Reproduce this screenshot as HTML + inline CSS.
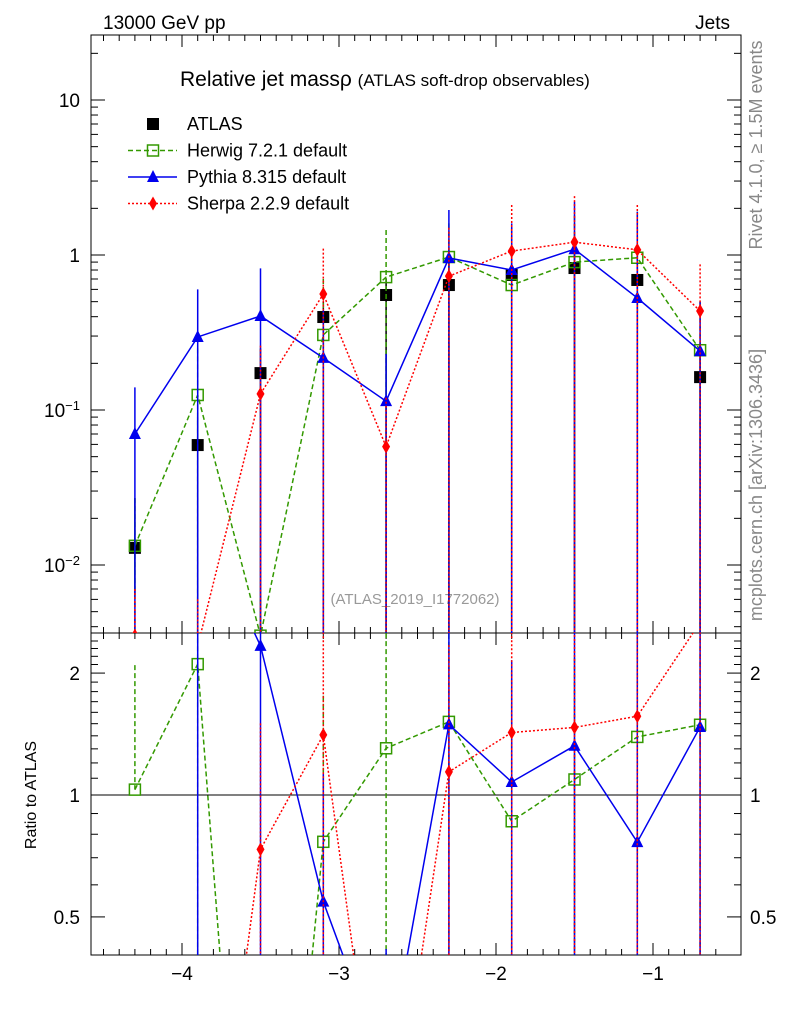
<!DOCTYPE html>
<html><head><meta charset="utf-8"><style>
html,body{margin:0;background:#fff;overflow:hidden;width:786px;height:1024px;}
svg{font-family:"Liberation Sans",sans-serif;display:block;}
</style></head><body>
<svg id="c" width="786" height="1024" xmlns="http://www.w3.org/2000/svg">
<text x="103" y="29" font-size="19">13000 GeV pp</text>
<text x="730" y="29" font-size="19" text-anchor="end">Jets</text>
<text x="180" y="86" font-size="21">Relative jet massρ <tspan font-size="17">(ATLAS soft-drop observables)</tspan></text>
<text x="415" y="604" font-size="15" fill="#999" text-anchor="middle">(ATLAS_2019_I1772062)</text>
<text transform="translate(762,145) rotate(-90)" font-size="18" fill="#888" text-anchor="middle">Rivet 4.1.0, ≥ 1.5M events</text>
<text transform="translate(762,485) rotate(-90)" font-size="18" fill="#888" text-anchor="middle">mcplots.cern.ch [arXiv:1306.3436]</text>
<text transform="translate(36,795) rotate(-90)" font-size="16" text-anchor="middle">Ratio to ATLAS</text>
<g id="g"></g>
</svg>
<script>
const xs=[-4.3,-3.9,-3.5,-3.1,-2.7,-2.3,-1.9,-1.5,-1.1,-0.7];
const atlas=[0.0129,0.0594,0.173,0.398,0.552,0.64,0.743,0.824,0.69,0.163];
const atlasUp=[0.027,0.09,0.25,0.5,0.7,1.0,1.1,1.2,1.1,0.25];
const herwig=[0.0133,0.125,0.0035,0.305,0.72,0.97,0.64,0.9,0.96,0.243];
const herwigUp=[0.027,0.25,0.006,0.7,1.45,1.6,1.5,1.8,1.9,0.5];
const pythia=[0.07,0.296,0.404,0.217,0.114,0.956,0.8,1.09,0.528,0.24];
const pythiaUp=[0.14,0.6,0.82,0.45,0.23,1.95,1.6,2.2,1.9,0.5];
const sherpa=[0.0035,0.003,0.127,0.56,0.058,0.73,1.06,1.21,1.08,0.435];
const sherpaUp=[0.007,0.006,0.26,1.1,0.12,1.5,2.1,2.4,2.1,0.87];
const xTicks=[-4,-3,-2,-1];
const NS="http://www.w3.org/2000/svg";
const g=document.getElementById('g');
const L=91,R=741,T=35,M=633,B=955;
const X=v=>182+(v+4)*157;
const Y=v=>255-Math.log10(v)*155;
const RY=v=>795-Math.log10(v)*405;
function el(t,a,p){const e=document.createElementNS(NS,t);for(const k in a)e.setAttribute(k,a[k]);(p||g).appendChild(e);return e;}
const defs=el('defs',{});
const c1=el('clipPath',{id:'cm'},defs);el('rect',{x:L,y:T,width:R-L,height:M-T},c1);
const c2=el('clipPath',{id:'cr'},defs);el('rect',{x:L,y:M,width:R-L,height:B-M},c2);
const f1=el('rect',{x:L,y:T,width:R-L,height:M-T,fill:'none',stroke:'#000'});


const f2=el('rect',{x:L,y:M,width:R-L,height:B-M,fill:'none',stroke:'#000'});


for(let v=-4.5;v<=-0.5;v+=0.1){const x=X(v);const major=Math.abs(v-Math.round(v))<1e-6;const len=major?12:6;
 if(x<L||x>R)continue;
 el('line',{x1:x,y1:T,x2:x,y2:T+len,stroke:'#000'});el('line',{x1:x,y1:M,x2:x,y2:M-len,stroke:'#000'});
 el('line',{x1:x,y1:M,x2:x,y2:M+len,stroke:'#000'});el('line',{x1:x,y1:B,x2:x,y2:B-len,stroke:'#000'});}
xTicks.forEach(v=>{const t=el('text',{x:X(v),y:980,'font-size':19,'text-anchor':'middle'});t.textContent='−'+Math.abs(v);
 
 });
for(let d=-3;d<=1;d++)for(let m=1;m<=9;m++){const v=m*Math.pow(10,d);const y=Y(v);if(y<T||y>M)continue;const len=m==1?14:7;
 el('line',{x1:L,y1:y,x2:L+len,y2:y,stroke:'#000'});el('line',{x1:R,y1:y,x2:R-len,y2:y,stroke:'#000'});}
[[10,'10'],[1,'1'],[0.1,'10<tspan dy="-7" font-size="13">−1</tspan>'],[0.01,'10<tspan dy="-7" font-size="13">−2</tspan>']].forEach(([v,s])=>{
 const t=el('text',{x:80,y:Y(v)+7,'font-size':19,'text-anchor':'end'});t.innerHTML=s;
 
 });
for(let v=0.4;v<=2.5;v+=0.1){const y=RY(v);if(y<M||y>B)continue;const major=[0.5,1,2].some(q=>Math.abs(q-v)<1e-6);const len=major?14:7;
 el('line',{x1:L,y1:y,x2:L+len,y2:y,stroke:'#000'});el('line',{x1:R,y1:y,x2:R-len,y2:y,stroke:'#000'});}
[[0.5,'0.5'],[1,'1'],[2,'2']].forEach(([v,s])=>{
 const t=el('text',{x:80,y:RY(v)+7,'font-size':19,'text-anchor':'end'});t.textContent=s;
 
 
 const t2=el('text',{x:750,y:RY(v)+7,'font-size':19});t2.textContent=s;
 
 });
el('line',{x1:L,y1:RY(1),x2:R,y2:RY(1),stroke:'#000'});
function marker(kind,x,y,col,p){
 if(kind=='sq')return el('rect',{x:x-6,y:y-6,width:12,height:12,fill:'#000'},p);
 if(kind=='osq')return el('rect',{x:x-5.5,y:y-5.5,width:11,height:11,fill:'none',stroke:col,'stroke-width':1.5},p);
 if(kind=='tri')return el('path',{d:`M${x},${y-7}L${x+6},${y+5}L${x-6},${y+5}Z`,fill:col},p);
 return el('path',{d:`M${x},${y-7}L${x+4},${y}L${x},${y+7}L${x-4},${y}Z`,fill:col},p);}
const series=[
 {name:'herwig',v:herwig,up:herwigUp,col:'#339900',dash:'5,3',m:'osq'},
 {name:'pythia',v:pythia,up:pythiaUp,col:'#0000ee',dash:'',m:'tri'},
 {name:'sherpa',v:sherpa,up:sherpaUp,col:'#ff0000',dash:'2,2',m:'dia'}];
const gm=el('g',{'clip-path':'url(#cm)'});
const gr=el('g',{'clip-path':'url(#cr)'});
atlas.forEach((v,i)=>{el('line',{x1:X(xs[i]),y1:Y(atlasUp[i]),x2:X(xs[i]),y2:i==0?Y(v*0.5):M,stroke:'#000','stroke-width':1.5},gm);
 const mk=marker('sq',X(xs[i]),Y(v),'#000',gm);
 
 });
series.forEach(s=>{
 s.v.forEach((v,i)=>{const x=X(xs[i]);
  el('line',{x1:x,y1:Y(s.up[i]),x2:x,y2:M,stroke:s.col,'stroke-width':1.5,'stroke-dasharray':s.dash},gm);
  const r=v/atlas[i],ru=s.up[i]/atlas[i];
  if(i>0) el('line',{x1:x,y1:RY(ru),x2:x,y2:B,stroke:s.col,'stroke-width':1.5,'stroke-dasharray':s.dash},gr);
  else if(r>0.3) el('line',{x1:x,y1:RY(ru),x2:x,y2:RY(r),stroke:s.col,'stroke-width':1.5,'stroke-dasharray':s.dash},gr);});
 const pl=el('polyline',{points:s.v.map((v,i)=>X(xs[i])+','+Y(v)).join(' '),fill:'none',stroke:s.col,'stroke-width':1.5,'stroke-dasharray':s.dash},gm);
 
 
 const pr=el('polyline',{points:s.v.map((v,i)=>X(xs[i])+','+RY(v/atlas[i])).join(' '),fill:'none',stroke:s.col,'stroke-width':1.5,'stroke-dasharray':s.dash},gr);
 
 
 s.v.forEach((v,i)=>{const a=marker(s.m,X(xs[i]),Y(v),s.col,gm);
  
  
  const b=marker(s.m,X(xs[i]),RY(v/atlas[i]),s.col,gr);
  
  });
});
const lg=el('g',{});


const labels=[['ATLAS','sq','#000',''],['Herwig 7.2.1 default','osq','#339900','5,3'],['Pythia 8.315 default','tri','#0000ee',''],['Sherpa 2.2.9 default','dia','#ff0000','2,2']];
labels.forEach((l,i)=>{const y=124+i*26.5;
 if(i>0)el('line',{x1:128,y1:y,x2:177,y2:y,stroke:l[2],'stroke-width':1.5,'stroke-dasharray':l[3]},lg);
 marker(l[1],153,y,l[2],lg);
 const t=el('text',{x:187,y:y+6,'font-size':18},lg);t.textContent=l[0];
 
 });
</script>
</body></html>
